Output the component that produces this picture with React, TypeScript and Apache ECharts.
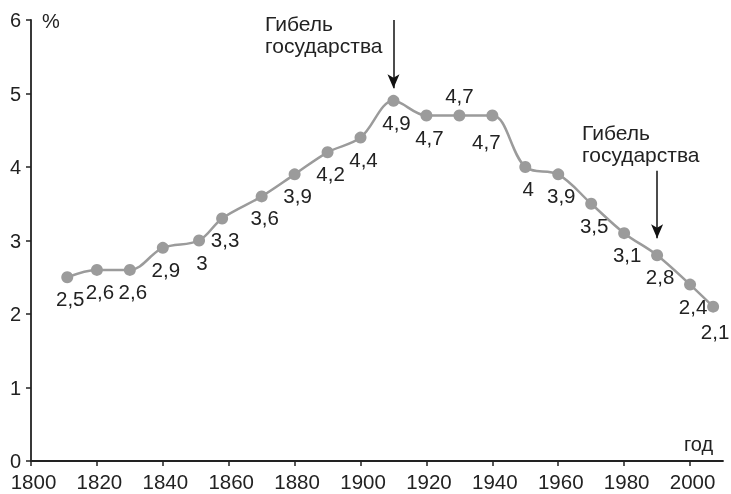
import React, { useEffect, useRef } from "react";
import * as echarts from "echarts";

const years = [1811, 1820, 1830, 1840, 1851, 1858, 1870, 1880, 1890, 1900, 1910, 1920, 1930, 1940, 1950, 1960, 1970, 1980, 1990, 2000, 2007];
const values = [2.5, 2.6, 2.6, 2.9, 3, 3.3, 3.6, 3.9, 4.2, 4.4, 4.9, 4.7, 4.7, 4.7, 4, 3.9, 3.5, 3.1, 2.8, 2.4, 2.1];
const xTicks = [1800, 1820, 1840, 1860, 1880, 1900, 1920, 1940, 1960, 1980, 2000];
const annotationText = "Гибель\nгосударства";
const arrows = [
  { year: 1910, from: 6.0, to: 5.07 },
  { year: 1990, from: 3.95, to: 3.03 },
];

const FONT = "'Liberation Sans', Arial, sans-serif";
const TEXT = "#222";
const GRAY = "#9b9b9b";

export default function App() {
  const ref = useRef<HTMLDivElement>(null);
  useEffect(() => {
    if (!ref.current) return;
    const chart = echarts.init(ref.current, null, { renderer: "svg" });
    const data = years.map((y, i) => {
      const item: any = { value: [y, values[i]] };
      if (y === 1930) {
        item.label = { position: "top", distance: 4, offset: [0, 0] };
      } else if (y === 1940) {
        item.label = { offset: [-6, 4] };
      } else if (y === 2007) {
        item.label = { offset: [2, 3] };
      }
      return item;
    });
    chart.setOption({
      animation: false,
      grid: { left: 31, right: 8, top: 20, bottom: 33, containLabel: false },
      xAxis: {
        type: "value",
        min: 1800,
        max: 2010,
        interval: 20,
        splitLine: { show: false },
        axisLine: { show: true, lineStyle: { color: TEXT, width: 1.8 } },
        axisTick: { show: true, length: 5, lineStyle: { color: TEXT, width: 1.5 }, customValues: xTicks },
        axisLabel: {
          color: TEXT,
          fontSize: 20.5,
          fontFamily: FONT,
          margin: 10,
          padding: [0, 0, 0, 5],
          customValues: xTicks,
          formatter: (v: number) => String(v),
        },
      },
      yAxis: {
        type: "value",
        min: 0,
        max: 6,
        interval: 1,
        splitLine: { show: false },
        axisLine: { show: true, lineStyle: { color: TEXT, width: 1.8 } },
        axisTick: { show: true, length: 5, lineStyle: { color: TEXT, width: 1.5 } },
        axisLabel: { color: TEXT, fontSize: 20, fontFamily: FONT, margin: 10 },
      },
      series: [
        {
          type: "line",
          data,
          smooth: 0.35,
          symbol: "circle",
          symbolSize: 12,
          showAllSymbol: true,
          lineStyle: { color: GRAY, width: 2.5 },
          itemStyle: { color: GRAY },
          label: {
            show: true,
            position: "bottom",
            distance: 5,
            offset: [3, 0],
            color: TEXT,
            fontSize: 20.5,
            fontFamily: FONT,
            formatter: (p: any) => String(p.value[1]).replace(".", ","),
          },
          markLine: {
            silent: true,
            symbol: ["none", "arrow"],
            symbolSize: [9, 14],
            label: { show: false },
            lineStyle: { color: "#111", width: 1.5, type: "solid" },
            data: arrows.map((a) => [
              { coord: [a.year, a.from] },
              { coord: [a.year, a.to] },
            ]),
          },
        },
      ],
      graphic: [
        {
          type: "text",
          left: 265,
          top: 12,
          style: { text: annotationText, font: `21px ${FONT}`, fill: TEXT, lineHeight: 22 },
        },
        {
          type: "text",
          left: 582,
          top: 121,
          style: { text: annotationText, font: `21px ${FONT}`, fill: TEXT, lineHeight: 22 },
        },
        {
          type: "text",
          left: 42,
          top: 11,
          style: { text: "%", font: `20px ${FONT}`, fill: TEXT },
        },
        {
          type: "text",
          left: 684,
          top: 434,
          style: { text: "год", font: `20px ${FONT}`, fill: TEXT },
        },
      ],
    });
    return () => chart.dispose();
  }, []);
  return (
    <div
      ref={ref}
      style={{ position: "fixed", left: 0, top: 0, width: 731, height: 494 }}
    />
  );
}
